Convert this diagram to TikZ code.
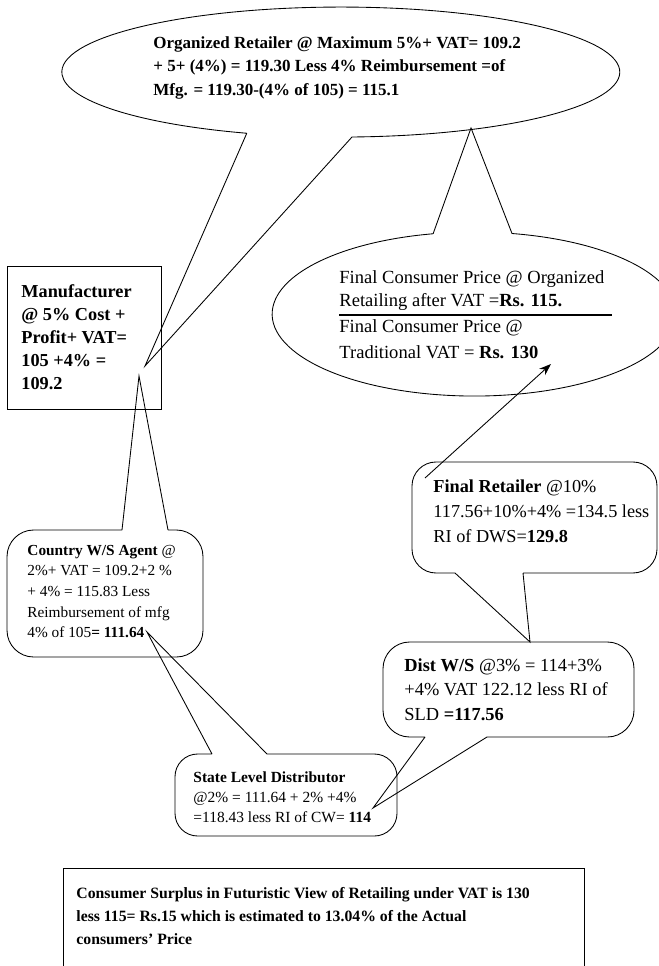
\documentclass[tikz,border=0pt]{standalone}
\usepackage{fontspec}
\setmainfont{Liberation Serif}
\usetikzlibrary{arrows.meta}
\begin{document}
\begin{tikzpicture}[x=0.75pt,y=-0.75pt,line width=0.65pt,
  txt/.style={anchor=north west,inner sep=0pt,align=left},
  outl/.style={draw=black,line join=miter}]
\useasboundingbox (0,0) rectangle (658,966);
% Organized retailer ellipse callout
\coordinate (orgtip) at (145,366);
\draw[outl] (246.8,133.2) -- (orgtip) -- (352,137) arc[start angle=87.7,end angle=-250.3,x radius=279,y radius=65];
\node[txt,font=\fontsize{12.75}{17.6}\selectfont\bfseries] (org) at (153,31.6)
 {\strut Organized Retailer @ Maximum 5\%+ VAT= 109.2\\
  + 5+ (4\%) = 119.30 Less 4\% Reimbursement =of\\
  Mfg. = 119.30-(4\% of 105) = 115.1};
% Final consumer price ellipse callout
\coordinate (fcptip) at (471,128);
\draw[outl] (433.1,233.8) -- (fcptip) -- (512,233.5) arc[start angle=-79.2,end angle=258.3,x radius=202,y radius=82];
\node[txt,font=\fontsize{13.9}{17.25}\selectfont] (fcp1) at (339,266.9)
 {\strut Final Consumer Price @ Organized\\
  Retailing after VAT =\textbf{Rs. 115.}};
\draw[line width=1.3pt] (339,315) -- (612,315);
\node[txt,font=\fontsize{13.9}{19.5}\selectfont] (fcp2) at (339,313.8)
 {\strut Final Consumer Price @\\
  Traditional VAT = \textbf{Rs. 130}};
% Manufacturer box
\draw[outl] (7,266) rectangle (161,409);
\node[txt,font=\fontsize{13.7}{17.25}\selectfont\bfseries] (mfr) at (21,280.9)
 {\strut Manufacturer\\ @ 5\% Cost +\\ Profit+ VAT=\\ 105 +4\% =\\ 109.2};
% Country W/S agent
\coordinate (cwatip) at (139,376);
\draw[outl,rounded corners=20] (168,530) -- (203,530) -- (203,657) -- (7,657) -- (7,530) -- (122,530)
  [sharp corners] (122,530) -- (cwatip) -- (168,530);
\node[txt,font=\fontsize{11.5}{15.4}\selectfont] (cwa) at (27,540.6)
 {\strut\textbf{Country W/S Agent} @\\
  2\%+ VAT = 109.2+2 \%\\
  + 4\% = 115.83 Less\\
  Reimbursement of mfg\\
  4\% of 105\textbf{= 111.64}};
% Final retailer
\coordinate (frettip) at (530,642);
\draw[outl,rounded corners=18] (523,573) -- (657,573) -- (657,462) -- (412,462) -- (412,573) -- (455,573)
  [sharp corners] (455,573) -- (frettip) -- (523,573);
\node[txt,font=\fontsize{13.7}{18.75}\selectfont] (fret) at (433,474.5)
 {\strut\textbf{Final Retailer} @10\%\\
  117.56+10\%+4\% =134.5 less\\
  RI of DWS=\textbf{129.8}};
\coordinate (arrS) at (425,478);
\coordinate (arrE) at (551,364);
\draw[-{Stealth[length=9pt,width=6.5pt]}] (arrS) -- (arrE);
% Dist W/S
\coordinate (dwstip) at (373,808);
\draw[outl,rounded corners=20] (487,737) -- (634,737) -- (634,642) -- (383,642) -- (383,737) -- (425,737)
  [sharp corners] (425,737) -- (dwstip) -- (487,737);
\node[txt,font=\fontsize{13.8}{18.4}\selectfont] (dws) at (404,653.8)
 {\strut\textbf{Dist W/S} @3\% = 114+3\%\\
  +4\% VAT 122.12 less RI of\\
  SLD \textbf{=117.56}};
% State level distributor
\coordinate (sldtip) at (147,632);
\draw[outl,rounded corners=17] (267,754) -- (397,754) -- (397,836) -- (175,836) -- (175,754) -- (212,754)
  [sharp corners] (212,754) -- (sldtip) -- (267,754);
\node[txt,font=\fontsize{11.6}{15}\selectfont] (sld) at (193,768)
 {\strut\textbf{State Level Distributor}\\
  @2\% = 111.64 + 2\% +4\%\\
  =118.43 less RI of CW= \textbf{114}};
% Consumer surplus box
\draw[outl] (63,868) rectangle (584,995);
\node[txt,font=\fontsize{11.8}{17.25}\selectfont\bfseries] (surplus) at (76,881.9)
 {\strut Consumer Surplus in Futuristic View of Retailing under VAT is 130\\
  less 115= Rs.15 which is estimated to 13.04\% of the Actual\\
  consumers’ Price};
\end{tikzpicture}
\end{document}
